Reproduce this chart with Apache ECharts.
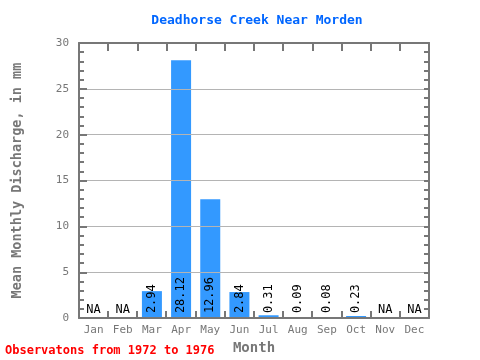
<!DOCTYPE html>
<html><head><meta charset="utf-8">
<script src="https://cdn.jsdelivr.net/npm/echarts@6/dist/echarts.min.js"></script>
<style>html,body{margin:0;padding:0;background:#fff}#c{width:480px;height:360px}</style>
</head><body><div id="c"></div>
<script>
var months = ['Jan','Feb','Mar','Apr','May','Jun','Jul','Aug','Sep','Oct','Nov','Dec'];
var values = [null, null, 2.94, 28.12, 12.96, 2.84, 0.31, 0.09, 0.08, 0.23, null, null];
var yTicks = [0, 5, 10, 15, 20, 25, 30];

var font = 'DejaVu Sans Mono';
var data = values.map(function (v) {
  if (v === null) {
    return { value: 0, label: { formatter: 'NA', rotate: 0, align: 'center', verticalAlign: 'bottom', distance: 2 } };
  }
  return { value: v };
});
var tickData = [];
for (var k = 1; k < months.length; k++) { tickData.push([k, 0]); }
var chart = echarts.init(document.getElementById('c'));
var axisCol = '#777777';
chart.setOption({
  animation: false,
  title: {
    text: 'Deadhorse Creek Near Morden', left: 252, top: 9, textAlign: 'center',
    textStyle: { color: '#0066ff', fontFamily: font, fontSize: 13, fontWeight: 'bold' }
  },
  graphic: [{
    type: 'text', left: 5, top: 345,
    style: { text: 'Observatons from 1972 to 1976', fill: '#ff0000', font: 'bold 12px ' + font }
  }],
  grid: { left: 79, right: 51, top: 43, bottom: 39 },
  xAxis: [{
    type: 'category', data: months, position: 'bottom', z: 6,
    name: 'Month', nameLocation: 'middle', nameGap: 21,
    nameTextStyle: { color: '#777', fontFamily: font, fontSize: 14, fontWeight: 'bold' },
    axisLine: { onZero: false, lineStyle: { color: axisCol, width: 2 } },
    axisTick: { show: false },
    axisLabel: { color: '#777', fontFamily: font, fontSize: 11, margin: 7, interval: 0 }
  }, {
    type: 'category', data: months, position: 'top', z: 6,
    axisLine: { onZero: false, lineStyle: { color: axisCol, width: 2 } },
    axisTick: { show: true, inside: true, interval: 0, length: 8, lineStyle: { color: axisCol, width: 2 } },
    axisLabel: { show: false, interval: 0 }
  }],
  yAxis: [{
    type: 'value', min: yTicks[0], max: yTicks[yTicks.length - 1], interval: 5, position: 'left', z: 5,
    name: 'Mean Monthly Discharge, in mm', nameLocation: 'middle', nameGap: 55,
    nameTextStyle: { color: '#777', fontFamily: font, fontSize: 13.5, fontWeight: 'bold' },
    axisLine: { show: true, onZero: false, lineStyle: { color: axisCol, width: 2 } },
    axisTick: { show: true, inside: true, length: 8, lineStyle: { color: axisCol, width: 2 } },
    minorTick: { show: true, splitNumber: 5, length: 5, lineStyle: { color: axisCol, width: 2 } },
    splitLine: { show: true, lineStyle: { color: '#b4b4b4', width: 1 } },
    axisLabel: { color: '#777', fontFamily: font, fontSize: 11, margin: 10 }
  }, {
    type: 'value', min: yTicks[0], max: yTicks[yTicks.length - 1], interval: 5, position: 'right', z: 5,
    axisLine: { show: true, onZero: false, lineStyle: { color: axisCol, width: 2 } },
    axisTick: { show: true, inside: true, length: 5, lineStyle: { color: axisCol, width: 2 } },
    minorTick: { show: true, splitNumber: 5, length: 5, lineStyle: { color: axisCol, width: 2 } },
    splitLine: { show: false },
    axisLabel: { show: false }
  }],
  series: [{
    type: 'bar', data: data, barWidth: 20, z: 1,
    itemStyle: { color: '#3399ff' },
    label: {
      show: true, position: 'insideBottom', rotate: 90, align: 'left', verticalAlign: 'middle',
      distance: 5, color: '#000', fontFamily: font, fontSize: 12,
      formatter: function (p) { return String(p.value); }
    }
  }, {
    type: 'custom', xAxisIndex: 0, yAxisIndex: 0, data: tickData, z: 10, silent: true,
    renderItem: function (params, api) {
      var c = api.coord([api.value(0), api.value(1)]);
      var w = api.size([1, 0])[0];
      var x = Math.round(c[0] - w / 2);
      return {
        type: 'line',
        shape: { x1: x, y1: c[1], x2: x, y2: c[1] - 7 },
        style: { stroke: axisCol, lineWidth: 2 }
      };
    }
  }]
});
</script></body></html>
